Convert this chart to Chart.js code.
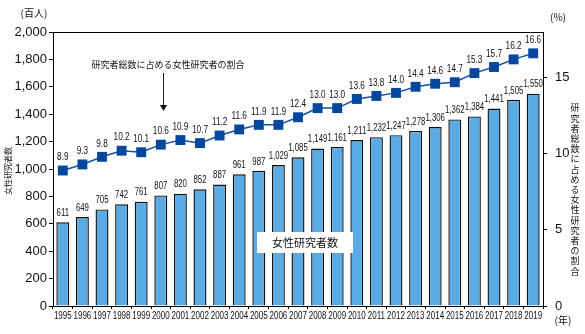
<!DOCTYPE html>
<html>
<head>
<meta charset="utf-8">
<script src="https://cdn.jsdelivr.net/npm/chart.js@4.4.1/dist/chart.umd.min.js"></script>
<style>
html, body { margin: 0; padding: 0; background: #fff; }
#wrap { width: 585px; height: 334px; }
</style>
</head>
<body>
<div id="wrap"><canvas id="myChart" width="585" height="334"></canvas></div>
<script>
// データ
const years = ["1995","1996","1997","1998","1999","2000","2001","2002","2003","2004","2005","2006","2007",
               "2008","2009","2010","2011","2012","2013","2014","2015","2016","2017","2018","2019"];
const womenResearchers = [611, 649, 705, 742, 761, 807, 820, 852, 887, 961, 987, 1029, 1085,
                          1149, 1161, 1211, 1232, 1247, 1278, 1306, 1362, 1384, 1441, 1505, 1550];
const womenRatio = [8.9, 9.3, 9.8, 10.2, 10.1, 10.6, 10.9, 10.7, 11.2, 11.6, 11.9, 11.9, 12.4,
                    13.0, 13.0, 13.6, 13.8, 14.0, 14.4, 14.6, 14.7, 15.3, 15.7, 16.2, 16.6];
const rightTicks = [0, 5, 10, 15];

const JP = '"Noto Sans CJK JP", sans-serif';
const NUM = '"Liberation Sans", Arial, sans-serif';

// 縮めた数字を描く
function narrowText(ctx, text, x, y, size, sx) {
    ctx.save();
    ctx.font = size + 'px ' + NUM;
    ctx.textAlign = 'center';
    ctx.textBaseline = 'middle';
    ctx.translate(x, y);
    ctx.scale(sx, 1);
    ctx.fillText(text, 0, 0);
    ctx.restore();
}

const labelPlugin = {
    id: 'labels',
    afterDatasetsDraw(chart) {
        const ctx = chart.ctx;
        ctx.fillStyle = '#111';
        const bars = chart.getDatasetMeta(0);
        bars.data.forEach((el, i) => {
            narrowText(ctx, womenResearchers[i].toLocaleString('en-US'), el.x, el.y - 9, 10, 0.78);
        });
        const line = chart.getDatasetMeta(1);
        line.data.forEach((el, i) => {
            narrowText(ctx, womenRatio[i].toFixed(1), el.x, el.y - 13, 10, 0.82);
        });
    },
    afterDraw(chart) {
        const ctx = chart.ctx;
        const area = chart.chartArea;
        const xs = chart.scales.x;

        // 枠
        ctx.save();
        ctx.strokeStyle = '#000';
        ctx.lineWidth = 1;
        ctx.beginPath();
        ctx.moveTo(area.left, area.top + 0.5);
        ctx.lineTo(area.right, area.top + 0.5);
        ctx.stroke();
        ctx.restore();

        // 年ラベル
        ctx.fillStyle = '#111';
        years.forEach((y, i) => {
            narrowText(ctx, y, xs.getPixelForValue(i), 316, 10, 0.8);
        });

        ctx.save();
        ctx.fillStyle = '#111';
        ctx.font = '10px ' + JP;
        ctx.textBaseline = 'middle';
        ctx.textAlign = 'center';
        ctx.fillText('(百人)', 34, 13);
        ctx.fillText('(%)', 558, 17);
        ctx.fillText('(年)', 563, 320);

        // 左軸タイトル
        ctx.save();
        ctx.translate(8, 171);
        ctx.rotate(-Math.PI / 2);
        ctx.font = '8px ' + JP;
        ctx.fillText('女性研究者数', 0, 0);
        ctx.restore();

        // 右軸タイトル(縦書き)
        const rt = '研究者総数に占める女性研究者の割合';
        ctx.font = '9px ' + JP;
        for (let i = 0; i < rt.length; i++) {
            ctx.fillText(rt[i], 575, 108 + i * 10.2);
        }

        // 注記
        ctx.font = '9px ' + JP;
        ctx.fillText('研究者総数に占める女性研究者の割合', 168, 65);
        ctx.strokeStyle = '#222';
        ctx.lineWidth = 1;
        ctx.beginPath();
        ctx.moveTo(163.5, 73);
        ctx.lineTo(163.5, 106);
        ctx.stroke();
        ctx.beginPath();
        ctx.moveTo(160, 105);
        ctx.lineTo(167, 105);
        ctx.lineTo(163.5, 111);
        ctx.closePath();
        ctx.fill();

        // 凡例ボックス
        ctx.fillStyle = '#fff';
        ctx.fillRect(257, 232, 96, 21);
        ctx.fillStyle = '#111';
        ctx.font = '11px ' + JP;
        ctx.fillText('女性研究者数', 305, 243);
        ctx.restore();
    }
};

function renderChart() {
    const ctx = document.getElementById('myChart').getContext('2d');
    new Chart(ctx, {
        type: 'bar',
        data: {
            labels: years,
            datasets: [
                {
                    type: 'bar',
                    label: '女性研究者数',
                    data: womenResearchers,
                    backgroundColor: '#5aabe3',
                    borderColor: '#111',
                    borderWidth: 1.4,
                    barPercentage: 0.66,
                    categoryPercentage: 1,
                    yAxisID: 'y',
                    order: 2
                },
                {
                    type: 'line',
                    label: '研究者総数に占める女性研究者の割合',
                    data: womenRatio,
                    borderColor: '#1550a3',
                    borderWidth: 1.5,
                    pointStyle: 'rect',
                    pointRadius: 7,
                    pointBackgroundColor: '#04479c',
                    pointBorderColor: '#04479c',
                    pointBorderWidth: 0,
                    yAxisID: 'y1',
                    order: 1
                }
            ]
        },
        options: {
            responsive: false,
            animation: false,
            devicePixelRatio: 1,
            layout: { padding: { top: 32, left: 0, right: 0, bottom: 0 } },
            plugins: {
                legend: { display: false },
                tooltip: { enabled: false }
            },
            scales: {
                x: {
                    offset: true,
                    grid: { display: true, drawOnChartArea: false, drawTicks: true, tickLength: 3, color: '#000', offset: true },
                    border: { display: true, color: '#000', width: 1 },
                    ticks: { display: false },
                    afterFit: s => { s.height = 28; }
                },
                y: {
                    position: 'left',
                    min: 0,
                    max: 2000,
                    ticks: {
                        stepSize: 200,
                        color: '#111',
                        padding: 2,
                        font: { family: NUM, size: 13 },
                        callback: v => v.toLocaleString('en-US')
                    },
                    grid: { drawOnChartArea: false, tickLength: 4, color: '#000' },
                    border: { display: true, color: '#000', width: 1 },
                    afterFit: s => { s.width = 53; }
                },
                y1: {
                    position: 'right',
                    min: 0,
                    max: 18,
                    afterBuildTicks: s => { s.ticks = rightTicks.map(v => ({ value: v })); },
                    ticks: {
                        color: '#111',
                        padding: 8,
                        font: { family: NUM, size: 13 }
                    },
                    grid: { drawOnChartArea: false, tickLength: 4, color: '#000' },
                    border: { display: true, color: '#000', width: 1 },
                    afterFit: s => { s.width = 42; }
                }
            }
        },
        plugins: [labelPlugin]
    });
}

renderChart();
</script>
</body>
</html>
